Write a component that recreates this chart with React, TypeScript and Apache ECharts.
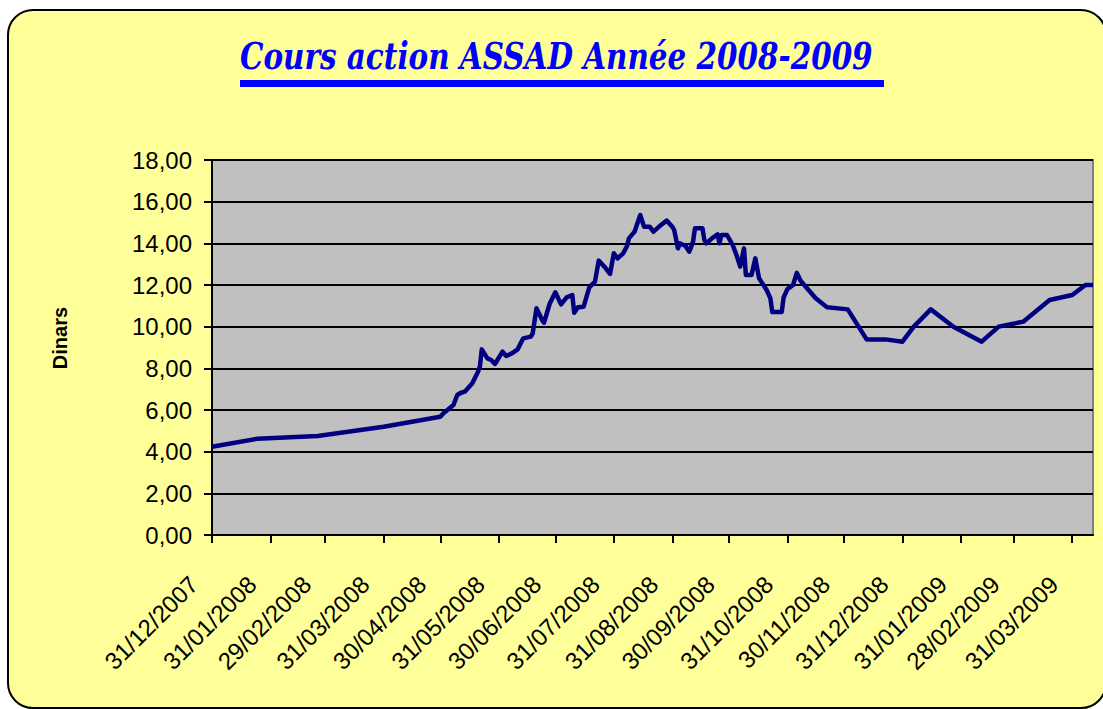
import React, { useEffect, useRef } from "react";
import * as echarts from "echarts";

const titleText = "Cours action ASSAD Année 2008-2009";
const yAxisName = "Dinars";

const dates = [
  "2007-12-31", "2008-01-24", "2008-02-25", "2008-03-31", "2008-04-30",
  "2008-05-02", "2008-05-07", "2008-05-09", "2008-05-11", "2008-05-13", "2008-05-17", "2008-05-20", "2008-05-21", "2008-05-22", "2008-05-25", "2008-05-27", "2008-05-29",
  "2008-06-02", "2008-06-04", "2008-06-07", "2008-06-10", "2008-06-13", "2008-06-17", "2008-06-18", "2008-06-20", "2008-06-23", "2008-06-24", "2008-06-27", "2008-06-30",
  "2008-07-03", "2008-07-06", "2008-07-09", "2008-07-10", "2008-07-12", "2008-07-15", "2008-07-18", "2008-07-21", "2008-07-23", "2008-07-26", "2008-07-29", "2008-07-31",
  "2008-08-02", "2008-08-05", "2008-08-07", "2008-08-08", "2008-08-11", "2008-08-14", "2008-08-16", "2008-08-19", "2008-08-21", "2008-08-24", "2008-08-25", "2008-08-28", "2008-08-31",
  "2008-09-01", "2008-09-03", "2008-09-04", "2008-09-07", "2008-09-09", "2008-09-11", "2008-09-12", "2008-09-16", "2008-09-17", "2008-09-18", "2008-09-21", "2008-09-24", "2008-09-25", "2008-09-26", "2008-09-29",
  "2008-10-02", "2008-10-04", "2008-10-06", "2008-10-08", "2008-10-09", "2008-10-12", "2008-10-14", "2008-10-16", "2008-10-20", "2008-10-22", "2008-10-23", "2008-10-28", "2008-10-29", "2008-10-31",
  "2008-11-03", "2008-11-05", "2008-11-07", "2008-11-15", "2008-11-21",
  "2008-12-02", "2008-12-12", "2008-12-22", "2008-12-31",
  "2009-01-06", "2009-01-15", "2009-01-27",
  "2009-02-11", "2009-02-20",
  "2009-03-05", "2009-03-19", "2009-03-31",
  "2009-04-07", "2009-04-11",
];

const prices = [
  4.24, 4.62, 4.75, 5.2, 5.68,
  5.87, 6.24, 6.72, 6.83, 6.88, 7.28, 7.84, 8.08, 8.91, 8.48, 8.4, 8.21,
  8.8, 8.59, 8.72, 8.91, 9.44, 9.52, 9.68, 10.88, 10.32, 10.19, 11.1, 11.65,
  11.07, 11.41, 11.52, 10.67, 10.93, 10.96, 11.89, 12.16, 13.17, 12.88, 12.53, 13.52,
  13.28, 13.52, 13.87, 14.24, 14.56, 15.36, 14.8, 14.8, 14.56, 14.8, 14.88, 15.09, 14.8,
  14.64, 13.76, 14.0, 13.87, 13.6, 14.08, 14.72, 14.72, 14.16, 14.0, 14.24, 14.43, 14.0, 14.4, 14.4,
  13.92, 13.44, 12.88, 13.76, 12.48, 12.48, 13.28, 12.32, 11.76, 11.36, 10.7, 10.7, 11.4, 11.8,
  12.0, 12.58, 12.2, 11.36, 10.93,
  10.83, 9.39, 9.39, 9.28,
  10.0, 10.83, 10.0,
  9.28, 10.0,
  10.24, 11.28, 11.52,
  12.0, 12.0,
];

const tickDates = [
  "2007-12-31", "2008-01-31", "2008-02-29", "2008-03-31", "2008-04-30", "2008-05-31",
  "2008-06-30", "2008-07-31", "2008-08-31", "2008-09-30", "2008-10-31", "2008-11-30",
  "2008-12-31", "2009-01-31", "2009-02-28", "2009-03-31",
];
const axisStart = "2007-12-31";
const axisEnd = "2009-04-11";

const yMin = 0;
const yMax = 18;
const yStep = 2;

function toTs(s: string): number {
  const [y, m, d] = s.split("-").map(Number);
  return Date.UTC(y, m - 1, d);
}

function fmtDate(v: number): string {
  const d = new Date(v);
  const dd = String(d.getUTCDate()).padStart(2, "0");
  const mm = String(d.getUTCMonth() + 1).padStart(2, "0");
  return `${dd}/${mm}/${d.getUTCFullYear()}`;
}

export default function App() {
  const ref = useRef<HTMLDivElement>(null);

  useEffect(() => {
    if (!ref.current) return;
    const chart = echarts.init(ref.current, null, { renderer: "svg" });
    const ticks = tickDates.map(toTs);
    chart.setOption({
      animation: false,
      backgroundColor: "transparent",
      grid: {
        left: 212,
        right: 10,
        top: 160,
        bottom: 174,
        show: true,
        backgroundColor: "#C0C0C0",
        borderColor: "#808080",
        borderWidth: 2,
        outerBoundsMode: "none",
      },
      graphic: [
        {
          type: "text",
          x: 240,
          y: 56,
          scaleX: 0.796,
          style: {
            text: titleText,
            fontFamily: "DejaVu Serif",
            fontSize: 37,
            fontWeight: "bold",
            fontStyle: "italic",
            fill: "#0000FF",
            align: "left",
            verticalAlign: "middle",
          },
        },
        {
          type: "rect",
          shape: { x: 240, y: 80, width: 644, height: 7 },
          style: { fill: "#0000FF" },
        },
        {
          type: "text",
          x: 60,
          y: 338,
          rotation: Math.PI / 2,
          style: {
            text: yAxisName,
            fontFamily: "Liberation Sans",
            fontSize: 20,
            fontWeight: "bold",
            fill: "#000",
            align: "center",
            verticalAlign: "middle",
          },
        },
      ],
      xAxis: {
        type: "value",
        min: toTs(axisStart),
        max: toTs(axisEnd),
        splitLine: { show: false },
        axisLine: { show: true, lineStyle: { color: "#000", width: 2 } },
        axisTick: {
          show: true,
          length: 8,
          customValues: ticks,
          lineStyle: { color: "#000", width: 2 },
        },
        axisLabel: {
          customValues: ticks,
          rotate: 45,
          margin: 27,
          padding: [0, 26, 0, 0],
          fontSize: 24,
          fontFamily: "Liberation Sans",
          color: "#000",
          hideOverlap: false,
          showMinLabel: true,
          showMaxLabel: true,
          formatter: (v: number) => fmtDate(v),
        },
      },
      yAxis: {
        type: "value",
        min: yMin,
        max: yMax,
        interval: yStep,
        axisLine: { show: true, lineStyle: { color: "#000", width: 2 } },
        axisTick: { show: true, length: 8, lineStyle: { color: "#000", width: 2 } },
        splitLine: { show: true, lineStyle: { color: "#000", width: 2 } },
        axisLabel: {
          margin: 20,
          fontSize: 24,
          fontFamily: "Liberation Sans",
          color: "#000",
          formatter: (v: number) => v.toFixed(2).replace(".", ","),
        },
      },
      series: [
        {
          type: "line",
          data: dates.map((d, i) => [toTs(d), prices[i]]),
          showSymbol: false,
          symbol: "none",
          lineStyle: { color: "#000080", width: 4.5, join: "round" },
          z: 5,
        },
      ],
    });
    return () => chart.dispose();
  }, []);

  return (
    <div
      style={{
        position: "absolute",
        left: 0,
        top: 0,
        width: 1103,
        height: 709,
        overflow: "hidden",
        background: "#FFFFFF",
      }}
    >
      <div
        style={{
          position: "absolute",
          left: 7,
          top: 9,
          width: 1096,
          height: 696,
          border: "2px solid #000",
          borderRadius: 26,
          background: "#FFFF99",
        }}
      />
      <div
        ref={ref}
        style={{ position: "absolute", left: 0, top: 0, width: 1103, height: 709 }}
      />
    </div>
  );
}
